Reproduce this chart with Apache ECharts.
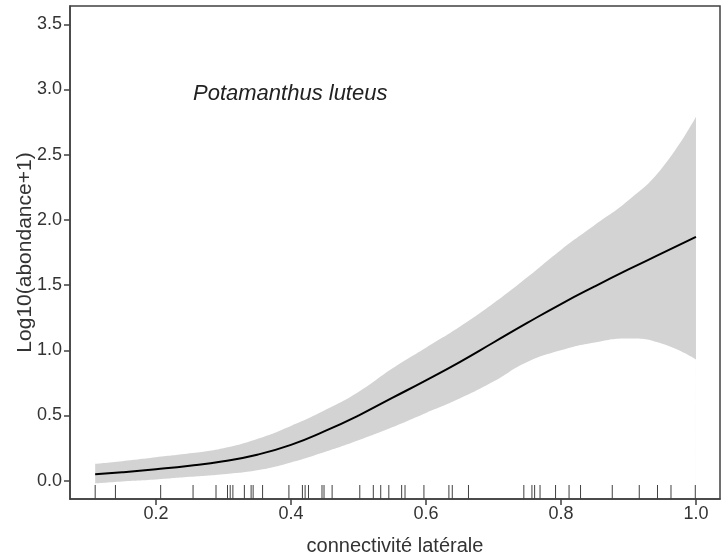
<!DOCTYPE html>
<html>
<head>
<meta charset="utf-8">
<script src="https://cdn.jsdelivr.net/npm/echarts@6/dist/echarts.min.js"></script>
<style>
  html, body { margin: 0; padding: 0; background: #fff; }
  #chart { width: 725px; height: 559px; }
</style>
</head>
<body>
<div id="chart"></div>
<script>
// observations (rug)
const rugX = [0.11, 0.14, 0.207, 0.255, 0.289, 0.306, 0.31, 0.314, 0.331, 0.341, 0.344, 0.358,
  0.397, 0.417, 0.421, 0.426, 0.446, 0.449, 0.461, 0.502, 0.522, 0.533, 0.545, 0.564, 0.569,
  0.597, 0.634, 0.639, 0.663, 0.745, 0.757, 0.761, 0.769, 0.792, 0.812, 0.829, 0.876, 0.916,
  0.943, 0.963, 0.999];

// fitted curve and confidence band
const fitX  = [0.11, 0.15, 0.2, 0.25, 0.3, 0.35, 0.4, 0.45, 0.5, 0.55, 0.6, 0.65, 0.7, 0.75, 0.8, 0.85, 0.9, 0.95, 1.0];
const fitY  = [0.05, 0.065, 0.088, 0.115, 0.15, 0.20, 0.275, 0.38, 0.50, 0.635, 0.77, 0.91, 1.06, 1.21, 1.355, 1.49, 1.62, 1.745, 1.87];
const lowY  = [-0.02, -0.005, 0.01, 0.03, 0.05, 0.08, 0.14, 0.22, 0.31, 0.41, 0.52, 0.63, 0.76, 0.91, 1.00, 1.06, 1.09, 1.05, 0.93];
const highY = [0.13, 0.15, 0.18, 0.21, 0.25, 0.32, 0.42, 0.54, 0.68, 0.86, 1.02, 1.18, 1.36, 1.56, 1.77, 1.96, 2.15, 2.40, 2.79];

const xTicks = [0.2, 0.4, 0.6, 0.8, 1.0];
const yTicks = [0.0, 0.5, 1.0, 1.5, 2.0, 2.5, 3.0, 3.5];

const X_MIN = 0.0727, X_MAX = 1.0356, Y_MIN = -0.14, Y_MAX = 3.64;
const AREA_BASE = -0.125; // just above the x axis line
const FONT = '"Liberation Sans", Arial, sans-serif';

const chart = echarts.init(document.getElementById('chart'));

const axisCommon = {
  type: 'value',
  axisLine: { show: true, onZero: false, lineStyle: { color: '#404040', width: 1.5 } },
  splitLine: { show: false },
  nameLocation: 'middle',
  nameMoveOverlap: false,
  nameTextStyle: { fontFamily: FONT, fontSize: 20, color: '#333' }
};

chart.setOption({
  animation: false,
  title: {
    text: 'Potamanthus luteus',
    left: 188, top: 78,
    textStyle: { fontFamily: FONT, fontSize: 22, fontStyle: 'italic', fontWeight: 'normal', color: '#222' }
  },
  grid: {
    left: 70, right: 5, top: 6, bottom: 60,
    outerBoundsMode: 'none',
    containLabel: false,
    show: true, borderColor: '#404040', borderWidth: 1.5
  },
  xAxis: Object.assign({}, axisCommon, {
    min: X_MIN, max: X_MAX,
    name: 'connectivité latérale', nameGap: 37,
    axisTick: { show: true, customValues: xTicks, length: 6, lineStyle: { color: '#404040', width: 1.5 } },
    axisLabel: { customValues: xTicks, formatter: v => v.toFixed(1), fontFamily: FONT, fontSize: 18, color: '#333', margin: 6 }
  }),
  yAxis: Object.assign({}, axisCommon, {
    min: Y_MIN, max: Y_MAX,
    name: 'Log10(abondance+1)', nameGap: 34,
    nameTextStyle: { fontFamily: FONT, fontSize: 21, color: '#333' },
    axisTick: { show: true, customValues: yTicks, length: 6, lineStyle: { color: '#404040', width: 1.5 } },
    axisLabel: { customValues: yTicks, formatter: v => v.toFixed(1), fontFamily: FONT, fontSize: 18, color: '#333', margin: 8 }
  }),
  series: [
    {
      // upper edge of band, grey fill down to the axis
      type: 'line',
      data: fitX.map((x, i) => [x, highY[i]]),
      smooth: true,
      showSymbol: false,
      lineStyle: { width: 0, opacity: 0 },
      areaStyle: { color: '#d3d3d3', opacity: 1, origin: AREA_BASE },
      silent: true,
      z: 1
    },
    {
      // lower edge of band, white fill below it
      type: 'line',
      data: fitX.map((x, i) => [x, lowY[i]]),
      smooth: true,
      showSymbol: false,
      lineStyle: { width: 0, opacity: 0 },
      areaStyle: { color: '#ffffff', opacity: 1, origin: AREA_BASE },
      silent: true,
      z: 1.5
    },
    {
      type: 'line',
      data: fitX.map((x, i) => [x, fitY[i]]),
      smooth: true,
      showSymbol: false,
      lineStyle: { color: '#000', width: 2 },
      z: 3
    },
    {
      // rug
      type: 'custom',
      data: rugX.map(x => [x]),
      silent: true,
      renderItem: function (params, api) {
        const p = api.coord([api.value(0), Y_MIN]);
        return {
          type: 'line',
          shape: { x1: p[0], y1: p[1], x2: p[0], y2: p[1] - 14 },
          style: { stroke: '#404040', lineWidth: 1 }
        };
      },
      z: 4
    }
  ]
});
</script>
</body>
</html>
